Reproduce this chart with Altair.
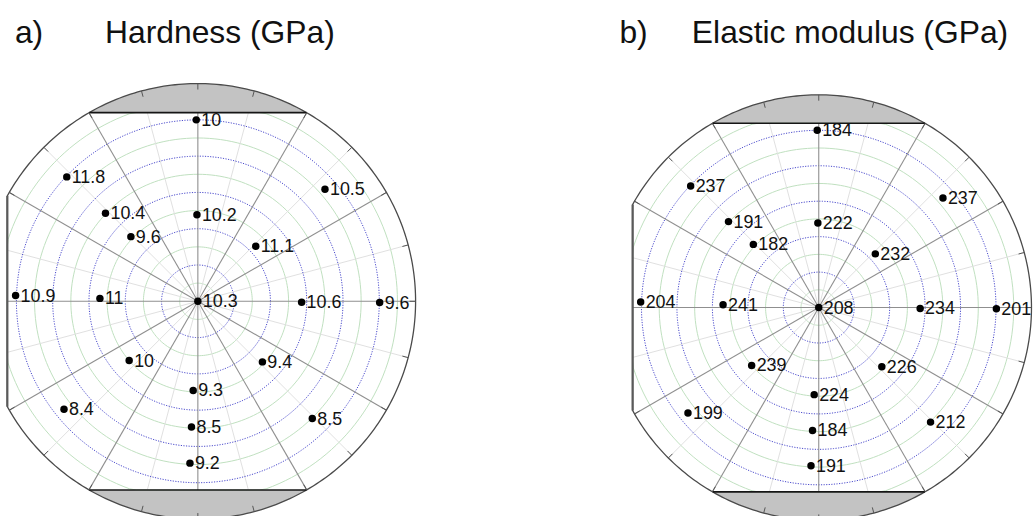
import altair as alt
import pandas as pd
import numpy as np

# ---------------- data ----------------
# measurement sites on the wafer: polar angle (deg) and radius (wafer units, edge = 12)
POS_ANGLE = [90.5, 136.5, 41.4, 136.4, 90.6, 136.0, 43.5, 178.2, 178.3, 0.0,
             -0.5, -0.4, -139.2, -43.2, -93.0, -141.1, -45.7, -92.9, -92.8]
POS_RADIUS = [10.0, 9.96, 9.34, 7.03, 4.77, 5.13, 4.4, 10.05, 5.4, 0.0,
              5.72, 10.02, 5.0, 4.88, 4.92, 9.48, 9.03, 6.94, 8.93]
HARDNESS = [10, 11.8, 10.5, 10.4, 10.2, 9.6, 11.1, 10.9, 11, 10.3,
            10.6, 9.6, 10, 9.4, 9.3, 8.4, 8.5, 8.5, 9.2]
MODULUS = [184, 237, 237, 191, 222, 182, 232, 204, 241, 208,
           234, 201, 239, 226, 224, 199, 212, 184, 191]

PANEL_LETTERS = ["a)", "b)"]
PANEL_TITLES = ["Hardness (GPa)", "Elastic modulus (GPa)"]

GREEN_RINGS = [1, 3, 5, 7, 9, 11]
BLUE_RINGS = [2, 4, 6, 8, 10]
SPOKE_ANGLES = list(range(0, 360, 15))

R = 12.0          # wafer radius
FLAT_TB = 10.4    # top / bottom flat distance from centre
FLAT_L = 10.5     # left flat distance from centre

FONT = "Liberation Sans"
PAD_TOP = 16
Y_TOP = 58.5      # page y of plot-area top
HEIGHT = 470
TITLE_SIZE = 32
NB = "\u00a0"


def panel(values, letter, title, nbsp, s, cx, cy, x0, width, title_dx):
    xmin = -(cx - x0) / s
    xmax = xmin + width / s
    ymax = (cy - Y_TOP) / s
    ymin = ymax - HEIGHT / s
    xs = alt.Scale(domain=[xmin, xmax], nice=False, zero=False)
    ys = alt.Scale(domain=[ymin, ymax], nice=False, zero=False)

    def X(f):
        return alt.X(f"{f}:Q", scale=xs, axis=None)

    def Y(f):
        return alt.Y(f"{f}:Q", scale=ys, axis=None)

    deg = "PI/180"

    # grey circular segments beyond top/bottom flats
    xf = float(np.sqrt(R * R - FLAT_TB * FLAT_TB))
    seg_x = np.linspace(-xf, xf, 121)
    seg = pd.DataFrame({"x": np.concatenate([seg_x, seg_x]),
                        "side": [1] * len(seg_x) + [-1] * len(seg_x)})
    gray = alt.Chart(seg).transform_calculate(
        yc=f"datum.side*sqrt({R*R} - datum.x*datum.x)",
        yf=f"datum.side*{FLAT_TB}",
    ).mark_area(color="#c3c3c3", orient="vertical").encode(
        x=X("x"), y=Y("yc"), y2=alt.Y2("yf"), detail="side:N")

    # rings
    ring_t = list(range(0, 361, 2))

    def ring_df(rs):
        return pd.DataFrame([(r, t) for r in rs for t in ring_t], columns=["r", "t"])

    ring_calc = dict(
        x=f"max(datum.r*cos(datum.t*{deg}), {-FLAT_L})",
        y=f"clamp(datum.r*sin(datum.t*{deg}), {-FLAT_TB}, {FLAT_TB})",
    )
    green = alt.Chart(ring_df(GREEN_RINGS)).transform_calculate(**ring_calc).mark_line(
        color="#bfe0bf", strokeWidth=1).encode(
        x=X("x"), y=Y("y"), detail="r:N", order="t:Q")
    blue = alt.Chart(ring_df(BLUE_RINGS)).transform_calculate(**ring_calc).mark_line(
        color="#4b4bcc", strokeWidth=1, strokeDash=[1.2, 1.4]).encode(
        x=X("x"), y=Y("y"), detail="r:N", order="t:Q")

    # spokes
    spk = pd.DataFrame({"a": SPOKE_ANGLES})
    spk_base = alt.Chart(spk).transform_calculate(
        ca=f"cos(datum.a*{deg})", sa=f"sin(datum.a*{deg})",
    ).transform_calculate(
        re=f"min({R}, {FLAT_TB}/max(abs(datum.sa),1e-9), datum.ca < -1e-9 ? {FLAT_L}/abs(datum.ca) : {R})",
        major="datum.a % 30 == 0",
        o="0",
    ).transform_calculate(
        x2="datum.re*datum.ca", y2="datum.re*datum.sa")
    faint = spk_base.transform_filter("!datum.major").mark_rule(
        color="#e0e0e0", strokeWidth=1).encode(
        x=X("o"), y=Y("o"), x2=alt.X2("x2"), y2=alt.Y2("y2"))
    dark = spk_base.transform_filter("datum.major").mark_rule(
        color="#8f8f8f", strokeWidth=1.1).encode(
        x=X("o"), y=Y("o"), x2=alt.X2("x2"), y2=alt.Y2("y2"))

    # outer circle (cut by left flat)
    circ = pd.DataFrame({"t": list(range(0, 361, 1))})
    outer = alt.Chart(circ).transform_calculate(
        x=f"max({R}*cos(datum.t*{deg}), {-FLAT_L})",
        y=f"{R}*sin(datum.t*{deg})",
    ).mark_line(color="#4a4a4a", strokeWidth=1.3).encode(
        x=X("x"), y=Y("y"), order="t:Q")

    # flats
    yl = float(np.sqrt(R * R - FLAT_L * FLAT_L))
    flats = pd.DataFrame({
        "x": [-xf, -xf, -FLAT_L], "x2": [xf, xf, -FLAT_L],
        "y": [FLAT_TB, -FLAT_TB, -yl], "y2": [FLAT_TB, -FLAT_TB, yl],
        "c": ["#151515", "#151515", "#5a5a5a"], "w": [1.6, 1.6, 2.2]})
    flat = alt.Chart(flats).mark_rule().encode(
        x=X("x"), x2=alt.X2("x2"), y=Y("y"), y2=alt.Y2("y2"),
        color=alt.Color("c:N", scale=None), strokeWidth=alt.StrokeWidth("w:Q", scale=None))

    # ticks on the rim
    ticks = alt.Chart(spk).transform_calculate(
        ca=f"cos(datum.a*{deg})", sa=f"sin(datum.a*{deg})",
    ).transform_filter(f"{R}*datum.ca >= {-FLAT_L}").transform_calculate(
        x=f"{R}*datum.ca", y=f"{R}*datum.sa",
        x2=f"{R - 0.33}*datum.ca", y2=f"{R - 0.33}*datum.sa",
    ).mark_rule(color="#555555", strokeWidth=1).encode(
        x=X("x"), y=Y("y"), x2=alt.X2("x2"), y2=alt.Y2("y2"))

    # measured points
    pts = pd.DataFrame({"a": POS_ANGLE, "r": POS_RADIUS, "v": values})
    pbase = alt.Chart(pts).transform_calculate(
        x=f"datum.r*cos(datum.a*{deg})", y=f"datum.r*sin(datum.a*{deg})")
    dots = pbase.mark_circle(color="black", opacity=1, size=56).encode(x=X("x"), y=Y("y"))
    labels = pbase.mark_text(align="left", baseline="middle", dx=5, dy=1, fontSize=18,
                             font=FONT, color="#111111").encode(
        x=X("x"), y=Y("y"), text=alt.Text("v:Q", format=".3~g"))

    ttl = alt.TitleParams(text=letter + NB * nbsp + title, anchor="start", dx=title_dx,
                          fontSize=TITLE_SIZE, font=FONT, fontWeight="normal",
                          color="#111111", offset=10)
    return alt.layer(gray, green, faint, blue, dark, outer, flat, ticks, dots, labels).properties(
        width=width, height=HEIGHT, title=ttl)


W1, S, W2 = 430, 10, 590
left = panel(HARDNESS, PANEL_LETTERS[0], PANEL_TITLES[0], 7, 18.25, 199, 301, 0, W1, 15)
right = panel(MODULUS, PANEL_LETTERS[1], PANEL_TITLES[1], 5, 17.83, 823.5, 307.3, W1 + S, W2,
              623 - (W1 + S))

chart = alt.hconcat(left, right, spacing=S).properties(
    padding={"left": 0, "top": PAD_TOP, "right": 0, "bottom": 0}
).configure_view(stroke=None)

chart.save("out.html", embed_options={"renderer": "svg", "actions": False})
